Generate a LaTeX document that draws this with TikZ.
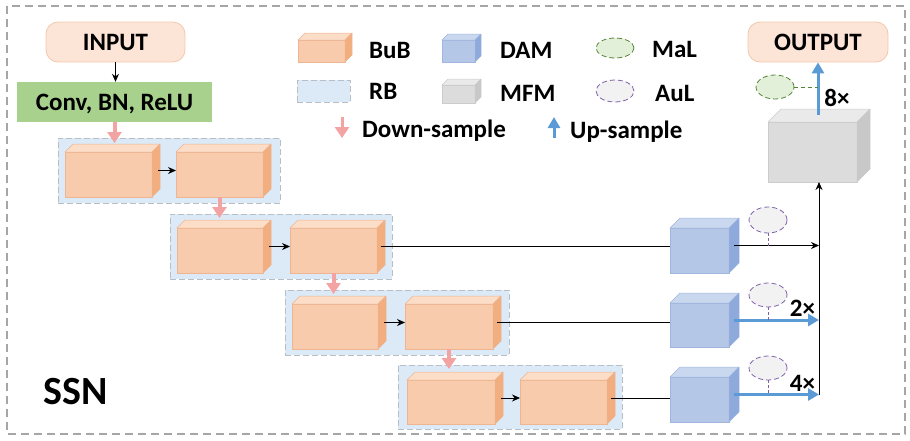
\documentclass[tikz,border=0pt]{standalone}
\usepackage{fontspec}
\setmainfont{Carlito}
\usetikzlibrary{arrows.meta,calc,shapes.geometric}
\definecolor{bubF}{HTML}{F8CBAD}
\definecolor{bubT}{HTML}{FBDDC8}
\definecolor{bubS}{HTML}{F2AE7E}
\definecolor{bubE}{HTML}{EDB592}
\definecolor{damF}{HTML}{B4C7E7}
\definecolor{damT}{HTML}{CAD8EF}
\definecolor{damS}{HTML}{8EA9DB}
\definecolor{damE}{HTML}{A0B6DE}
\definecolor{mfmF}{HTML}{DCDCDC}
\definecolor{mfmT}{HTML}{EAEAEA}
\definecolor{mfmS}{HTML}{C8C8C8}
\definecolor{mfmE}{HTML}{CCCCCC}
\definecolor{rbF}{HTML}{DCE9F6}
\definecolor{rbE}{HTML}{B8BEC6}
\definecolor{ioF}{HTML}{FCE4D6}
\definecolor{ioE}{HTML}{F1C9AE}
\definecolor{convF}{HTML}{A9D18E}
\definecolor{pinkA}{HTML}{F4A3A3}
\definecolor{blueA}{HTML}{5B9BD5}
\definecolor{malF}{HTML}{E2F0D9}
\definecolor{malE}{HTML}{548235}
\definecolor{aulF}{HTML}{F2F2F2}
\definecolor{aulE}{HTML}{7F5FA8}
\definecolor{frameC}{HTML}{A6A6A6}
% name, cx, cy, w, h, depth, colour prefix
\newcommand\mycube[7]{%
  \node[cubeface, fill=#7F, draw=#7E, minimum width=#4pt, minimum height=#5pt] (#1) at (#2,#3) {};
  \filldraw[fill=#7T, draw=#7E, line width=0.5pt, line join=round] (#1.north west) -- ++(#6,-#6) -- ([shift={(#6,-#6)}]#1.north east) -- (#1.north east) -- cycle;
  \filldraw[fill=#7S, draw=#7E, line width=0.5pt, line join=round] (#1.north east) -- ++(#6,-#6) -- ([shift={(#6,-#6)}]#1.south east) -- (#1.south east) -- cycle;
  \coordinate (#1s) at ([shift={(#6/2,-#6/2)}]#1.east);
}
\begin{document}
\begin{tikzpicture}[x=1pt,y=-1pt,
  font=\fontsize{25}{28}\selectfont\bfseries,
  cubeface/.style={rectangle, inner sep=0pt, outer sep=0pt, line width=0.5pt},
  io/.style={rectangle, rounded corners=12pt, fill=ioF, draw=ioE, line width=0.8pt, minimum width=139pt, minimum height=40pt, inner sep=0pt, text height=16pt, text depth=0pt},
  convbox/.style={rectangle, fill=convF, minimum width=195pt, minimum height=40pt, inner sep=0pt, text height=16pt, text depth=0pt},
  rbbox/.style={rectangle, fill=rbF, draw=rbE, dash pattern=on 6pt off 3pt, line width=0.9pt, inner sep=0pt, outer sep=0pt},
  blk/.style={draw=black, line width=0.8pt, -{Stealth[length=8pt,width=7pt]}},
  plain/.style={draw=black, line width=0.8pt},
  pinkarr/.style={draw=pinkA, line width=4pt, -{Triangle[length=11pt,width=14pt]}},
  bluearr/.style={draw=blueA, line width=3pt, -{Triangle[length=11pt,width=12pt]}},
  malell/.style={ellipse, fill=malF, draw=malE, dash pattern=on 5pt off 3pt, line width=0.8pt, minimum width=38pt, minimum height=22pt, inner sep=0pt},
  aulell/.style={ellipse, fill=aulF, draw=aulE, dash pattern=on 5pt off 3pt, line width=0.8pt, minimum width=38pt, minimum height=24pt, inner sep=0pt},
  malstem/.style={draw=malE, dash pattern=on 4pt off 3pt, line width=0.8pt},
  aulstem/.style={draw=aulE, dash pattern=on 3pt off 2pt, line width=0.8pt},
  lbl/.style={anchor=west, inner sep=0pt, text height=16pt, text depth=0pt},
  mult/.style={inner sep=0pt, text height=16pt, text depth=0pt},
]
\useasboundingbox (0,0) rectangle (910,440);
\draw[frameC, line width=1.5pt, dash pattern=on 8pt off 5pt] (7,6) rectangle (905,434);

% input / output
\node[io] (inp) at (115.5,42) {INPUT};
\node[convbox] (conv) at (114.5,102) {Conv, BN, ReLU};
\node[io, minimum width=140pt] (out) at (818,42) {OUTPUT};

% residual blocks
\node[rbbox, minimum width=222pt, minimum height=65pt] (rb1) at (169,170.5) {};
\node[rbbox, minimum width=222pt, minimum height=65pt] (rb2) at (281,246.5) {};
\node[rbbox, minimum width=224pt, minimum height=65pt] (rb3) at (397,322.5) {};
\node[rbbox, minimum width=224pt, minimum height=64pt] (rb4) at (510,397) {};

% building blocks
\mycube{b1}{108.5}{174.5}{87}{45}{8}{bub}
\mycube{b2}{219.5}{174.5}{87}{45}{8}{bub}
\mycube{b3}{220}{250.5}{86}{45}{8}{bub}
\mycube{b4}{333.5}{250.5}{87}{45}{8}{bub}
\mycube{b5}{335}{326.5}{86}{45}{8}{bub}
\mycube{b6}{449}{326.5}{88}{45}{8}{bub}
\mycube{b7}{451}{402}{88}{44}{8}{bub}
\mycube{b8}{563.5}{402}{87}{44}{8}{bub}

% DAM and MFM
\mycube{dam1}{699.5}{250.5}{59}{45}{10}{dam}
\mycube{dam2}{699.5}{325}{59}{44}{10}{dam}
\mycube{dam3}{699.5}{399.5}{59}{45}{10}{dam}
\mycube{mfm}{812.5}{152}{89}{60}{13}{mfm}
\coordinate (bus) at (819,0);

% connectors
\draw[blk] (inp.south) -- (inp.south |- conv.north);
\draw[pinkarr] (conv.south) -- ([yshift=-5pt]conv.south |- rb1.north);
\draw[pinkarr] (b2.south) -- ([yshift=-4pt]b2.south |- rb2.north);
\draw[pinkarr] (b4.south) -- ([yshift=-4pt]b4.south |- rb3.north);
\draw[pinkarr] (b6.south) -- ([yshift=-4pt]b6.south |- rb4.north);

\draw[blk] ([xshift=2pt]b1s) -- (b1s -| b2.west);
\draw[blk] ([xshift=2pt]b3s) -- (b3s -| b4.west);
\draw[blk] ([xshift=2pt]b5s) -- (b5s -| b6.west);
\draw[blk] ([xshift=2pt]b7s) -- (b7s -| b8.west);

\draw[plain] (b4s) -- (b4s -| dam1.west);
\draw[plain] (b6s) -- (b6s -| dam2.west);
\draw[plain] (b8s) -- (b8s -| dam3.west);

\draw[blk] (dam1s) -- (dam1s -| bus);
\draw[bluearr] (dam2s) -- (dam2s -| bus);
\draw[bluearr] (dam3s) -- (dam3s -| bus);
\draw[blk] (dam3s -| bus) -- (bus |- mfm.south);
\draw[bluearr] ([yshift=7pt]out.south |- mfm.north) -- (out.south);

% auxiliary / main losses
\node[aulell, minimum height=26pt] (a1) at (768,220) {};
\node[aulell] (a2) at (768,295) {};
\node[aulell] (a3) at (768,368) {};
\draw[aulstem] (a1.south) -- (a1.south |- dam1s);
\draw[aulstem] (a2.south) -- (a2.south |- dam2s);
\draw[aulstem] (a3.south) -- (a3.south |- dam3s);
\node[malell, minimum height=24pt] (m0) at (775,87) {};
\draw[malstem] (m0.east) -- (m0.east -| out.south);

\node[mult] (x2) at (802.5,308) {2×};
\node[mult] (x4) at (802.5,383) {4×};
\node[mult] (x8) at (837,98) {8×};

% legend
\mycube{lbub}{321.5}{51}{47}{22}{7}{bub}
\node[rbbox, minimum width=53pt, minimum height=22pt] (lrb) at (323.5,91) {};
\mycube{ldam}{458.5}{51}{33}{22}{6}{dam}
\mycube{lmfm}{458.5}{94}{33}{18}{6}{mfm}
\node[malell, minimum height=20pt] (lmal) at (615,48) {};
\node[aulell, minimum height=22pt] (laul) at (615,91) {};
\node[lbl] (tbub) at (369,50) {BuB};
\node[lbl] (trb) at (369,91) {RB};
\node[lbl] (tdam) at (500,50) {DAM};
\node[lbl] (tmfm) at (500,93) {MFM};
\node[lbl] (tmal) at (652,49) {MaL};
\node[lbl] (taul) at (655,93) {AuL};
\coordinate (ldt) at (342,117);
\coordinate (ldb) at (342,138);
\draw[pinkarr, line width=3pt] (ldt) -- (ldb);
\node[lbl] (tdown) at (362,129) {Down-sample};
\coordinate (lub) at (554,138);
\coordinate (lut) at (554,117);
\draw[bluearr] (lub) -- (lut);
\node[lbl] (tup) at (570,130) {Up-sample};

\node[font=\fontsize{40}{44}\selectfont\bfseries, inner sep=0pt] (ssn) at (76,392) {SSN};
\end{tikzpicture}
\end{document}
